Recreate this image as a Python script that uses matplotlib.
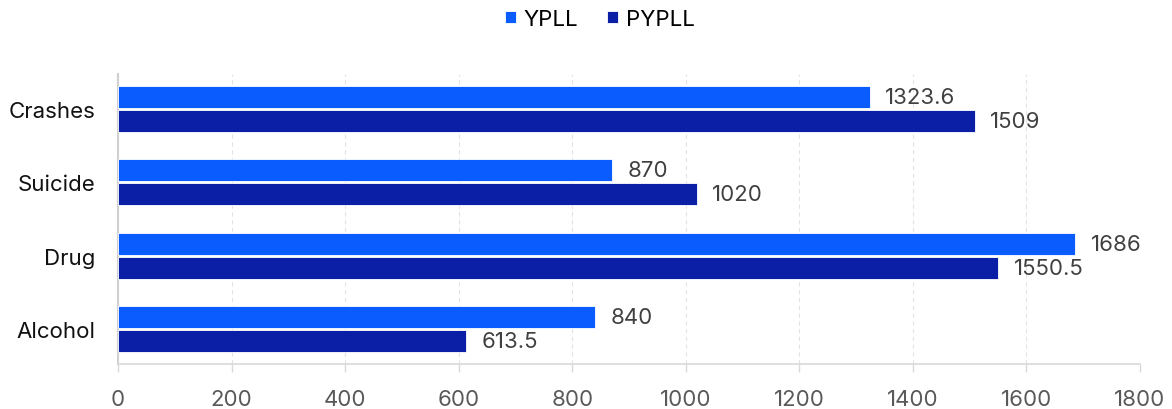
import matplotlib
matplotlib.use("Agg")
import matplotlib.pyplot as plt
import numpy as np

categories = ["Crashes", "Suicide", "Drug", "Alcohol"]
ypll = [1323.6, 870, 1686, 840]
pypll = [1509, 1020, 1550.5, 613.5]
xticks = [0, 200, 400, 600, 800, 1000, 1200, 1400, 1600, 1800]

plt.rcParams['font.family'] = ['Inter', 'DejaVu Sans']

c_y = "#0B5CFF"
c_p = "#0A1FA6"
fs = 16

fig = plt.figure(figsize=(11.72, 4.10), dpi=100)
ax = fig.add_axes([118/1172, 1-365/410, (1140-118)/1172, (365-75)/410])

pos = np.arange(len(categories))
h = 0.30
off = 0.163
b1 = ax.barh(pos - off, ypll, height=h, color=c_y, edgecolor="white", linewidth=0.6, label="YPLL", zorder=3)
b2 = ax.barh(pos + off, pypll, height=h, color=c_p, edgecolor="white", linewidth=0.6, label="PYPLL", zorder=3)

for bars, vals in ((b1, ypll), (b2, pypll)):
    for rect, v in zip(bars, vals):
        ax.annotate(f"{v:g}", (rect.get_width(), rect.get_y() + rect.get_height()/2),
                    xytext=(11, 0), textcoords="offset points", ha="left", va="center",
                    fontsize=fs, color="#404040")

ax.set_xlim(0, 1800)
ax.set_ylim(3.48, -0.48)
ax.set_xticks(xticks)
ax.set_xticklabels([str(t) for t in xticks], fontsize=fs, color="#595959")
ax.set_yticks(pos)
ax.set_yticklabels(categories, fontsize=fs, color="#111111")
ax.tick_params(axis="y", length=0, pad=16)
ax.tick_params(axis="x", length=6, width=1, color="#D9D9D9", pad=12, direction="out")

ax.grid(axis="x", color="#E3E3E3", linestyle=(0, (4, 3)), linewidth=0.8, zorder=0)
for s in ("top", "right"):
    ax.spines[s].set_visible(False)
ax.spines["left"].set_color("#D0D0D0")
ax.spines["left"].set_linewidth(1.5)
ax.spines["bottom"].set_color("#D9D9D9")
ax.spines["bottom"].set_linewidth(1.2)

leg = fig.legend(handles=[b1, b2], labels=["YPLL", "PYPLL"], loc="center",
                 bbox_to_anchor=(0.512, 1-20/410), ncol=2, frameon=False,
                 fontsize=fs, handlelength=0.5, handleheight=0.5,
                 handletextpad=0.35, columnspacing=1.3)

fig.savefig("out.png", dpi=100)
